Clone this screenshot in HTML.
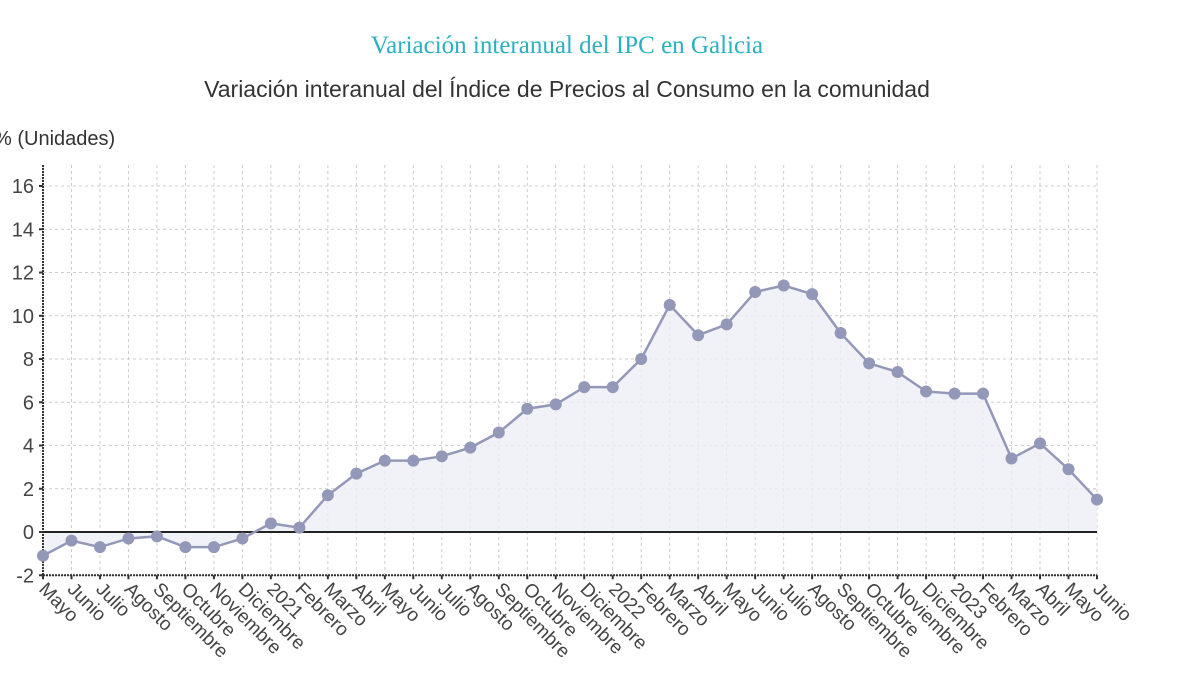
<!DOCTYPE html>
<html><head><meta charset="utf-8"><style>
html,body{margin:0;padding:0;background:#fff;}
svg{display:block;font-family:"Liberation Sans",sans-serif;}
</style></head><body>
<svg id="chart" width="1200" height="680" viewBox="0 0 1200 680">
<text x="567" y="53" text-anchor="middle" font-family="Liberation Serif,serif" font-size="25" fill="#2ab0c0">Variación interanual del IPC en Galicia</text>
<text x="567" y="97" text-anchor="middle" font-size="23" fill="#333">Variación interanual del Índice de Precios al Consumo en la comunidad</text>
<text x="-6" y="145" font-size="20" fill="#333">% (Unidades)</text>
<g id="grid"></g><g id="area"></g><g id="axes"></g><g id="series"></g><g id="labels"></g>
</svg>
<script>
const categories=["Mayo","Junio","Julio","Agosto","Septiembre","Octubre","Noviembre","Diciembre","2021","Febrero","Marzo","Abril","Mayo","Junio","Julio","Agosto","Septiembre","Octubre","Noviembre","Diciembre","2022","Febrero","Marzo","Abril","Mayo","Junio","Julio","Agosto","Septiembre","Octubre","Noviembre","Diciembre","2023","Febrero","Marzo","Abril","Mayo","Junio"];
const values=[-1.1,-0.4,-0.7,-0.3,-0.2,-0.7,-0.7,-0.3,0.4,0.2,1.7,2.7,3.3,3.3,3.5,3.9,4.6,5.7,5.9,6.7,6.7,8.0,10.5,9.1,9.6,11.1,11.4,11.0,9.2,7.8,7.4,6.5,6.4,6.4,3.4,4.1,2.9,1.5];
const yTicks=[-2,0,2,4,6,8,10,12,14,16];
const NS="http://www.w3.org/2000/svg";
const x0=43,x1=1097,yTop=165;
const xs=i=>x0+(x1-x0)*i/(categories.length-1);
const ys=v=>532-(v*(532-186)/16);
function mk(t,a,p){const e=document.createElementNS(NS,t);for(const k in a)e.setAttribute(k,a[k]);p.appendChild(e);return e;}
const grid=document.getElementById('grid'),axes=document.getElementById('axes'),ser=document.getElementById('series'),lab=document.getElementById('labels'),area=document.getElementById('area');
yTicks.forEach(v=>{
 const g=mk('line',{x1:x0,x2:x1,y1:ys(v),y2:ys(v),stroke:'#ccc','stroke-dasharray':'3,3'},grid);
 
 
 const t=mk('text',{x:x0-9,y:ys(v)+7,'text-anchor':'end','font-size':'20',fill:'#444'},lab);
 t.textContent=v;
 
 
 mk('line',{x1:x0-4,x2:x0,y1:ys(v),y2:ys(v),stroke:'#333','stroke-width':2},axes);
});
categories.forEach((c,i)=>{
 const x=xs(i);
 const g=mk('line',{x1:x,x2:x,y1:yTop,y2:ys(-2),stroke:'#ccc','stroke-dasharray':'3,3'},grid);
 
 
 mk('line',{x1:x,x2:x,y1:ys(-2),y2:ys(-2)+4,stroke:'#333','stroke-width':2},axes);
 const t=mk('text',{x:x-5,y:ys(-2)+15,'font-size':'19',fill:'#444',transform:`rotate(45 ${x-5} ${ys(-2)+15})`},lab);
 t.textContent=c;
 
 
});
let d=values.map((v,i)=>(i?'L':'M')+xs(i)+','+ys(v)).join(' ');
const a=mk('path',{d:d+` L${xs(values.length-1)},${ys(0)} L${x0},${ys(0)} Z`,fill:'#eeeef6',opacity:0.8},area);


const ax=mk('line',{x1:x0,x2:x0,y1:yTop,y2:ys(-2)+1,stroke:'#333','stroke-width':2,'stroke-dasharray':'2,1'},axes);


const bx=mk('line',{x1:x0,x2:x1,y1:ys(-2),y2:ys(-2),stroke:'#333','stroke-width':2,'stroke-dasharray':'2,1'},axes);


const zl=mk('line',{x1:x0,x2:x1,y1:ys(0),y2:ys(0),stroke:'#222','stroke-width':2},axes);


const ln=mk('path',{d:d,fill:'none',stroke:'#9498b8','stroke-width':2.5},ser);


values.forEach((v,i)=>{
 const p=mk('circle',{cx:xs(i),cy:ys(v),r:6,fill:'#9498b8'},ser);
 
 
});
</script>
</body></html>
